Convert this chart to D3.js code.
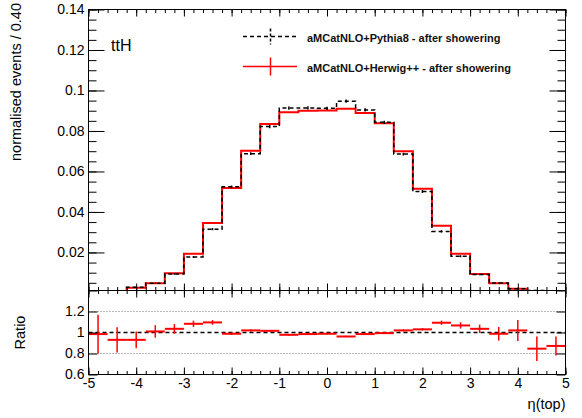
<!DOCTYPE html>
<html>
<head>
<meta charset="utf-8">
<script src="https://cdn.jsdelivr.net/npm/d3@7/dist/d3.min.js"></script>
<style>
  body { margin: 0; background: #fff; }
  svg { display: block; font-family: "Liberation Sans", Arial, Helvetica, sans-serif; }
</style>
</head>
<body>
<svg id="chart"></svg>
<script>
// bins of eta(top), width 0.4
const binLow = [-5, -4.6, -4.2, -3.8, -3.4, -3.0, -2.6, -2.2, -1.8, -1.4, -1.0, -0.6, -0.2,
  0.2, 0.6, 1.0, 1.4, 1.8, 2.2, 2.6, 3.0, 3.4, 3.8, 4.2, 4.6];
const binWidth = 0.4;

// aMCatNLO+Pythia8 (black dashed)
const pythia8 = [0.0004, 0.0011, 0.0028, 0.0048, 0.0094, 0.0178, 0.0315, 0.0524, 0.0688,
  0.0822, 0.0913, 0.0914, 0.0912, 0.0947, 0.0904, 0.0843, 0.0686, 0.0501, 0.0304, 0.0181,
  0.0091, 0.0049, 0.0021, 0.0012, 0.00046];
const pythia8Err = [0.0001, 0.0002, 0.0002, 0.0003, 0.0004, 0.0005, 0.0006, 0.0007, 0.0007,
  0.0008, 0.0008, 0.0008, 0.0008, 0.0008, 0.0008, 0.0008, 0.0007, 0.0007, 0.0006, 0.0005,
  0.0004, 0.0003, 0.0002, 0.0002, 0.0001];

// aMCatNLO+Herwig++ (red)
const herwig = [0.0004, 0.0010, 0.0026, 0.0048, 0.0097, 0.0193, 0.0345, 0.0518, 0.0702,
  0.0835, 0.0893, 0.0900, 0.0901, 0.0910, 0.0889, 0.0838, 0.0700, 0.0515, 0.0332, 0.0193,
  0.0094, 0.0048, 0.0021, 0.0010, 0.0004];

// ratio pad
const ratio = [0.985, 0.93, 0.93, 1.01, 1.035, 1.083, 1.096, 0.988, 1.02, 1.016, 0.978,
  0.985, 0.988, 0.962, 0.985, 0.994, 1.02, 1.03, 1.093, 1.067, 1.035, 0.988, 1.02, 0.846, 0.872];
const ratioErr = [0.185, 0.12, 0.08, 0.06, 0.045, 0.03, 0.022, 0.012, 0.01, 0.008, 0.008,
  0.008, 0.008, 0.008, 0.008, 0.008, 0.01, 0.012, 0.02, 0.03, 0.04, 0.065, 0.1, 0.117, 0.09];

const xTicks = [-5, -4, -3, -2, -1, 0, 1, 2, 3, 4, 5];
const yTicks = [0.02, 0.04, 0.06, 0.08, 0.1, 0.12, 0.14];
const ratioTicks = [0.6, 0.8, 1, 1.2, 1.4];
const ratioLabels = [0.6, 0.8, 1, 1.2];

const dimensions = {
  width: 582,
  height: 418,
  left: 88.5,
  right: 565.5,
  top: 9.5,
  mid: 290.5,
  bottom: 374.5
};

const svg = d3.select("#chart")
  .attr("width", dimensions.width)
  .attr("height", dimensions.height);

// scales
const xScale = d3.scaleLinear().domain([-5, 5]).range([dimensions.left, dimensions.right]);
const yScale = d3.scaleLinear().domain([0.0012, 0.14]).range([dimensions.mid, dimensions.top]);
const rScale = d3.scaleLinear().domain([0.6, 1.4]).range([dimensions.bottom, dimensions.mid]);

const xMinor = d3.range(-5, 5.0001, 0.2).map(d => +d.toFixed(1));
const yMinor = d3.range(0.005, 0.1401, 0.005).map(d => +d.toFixed(3));

const fmt = d => String(+d.toFixed(3));

svg.append("clipPath").attr("id", "topclip")
  .append("rect")
  .attr("x", dimensions.left).attr("y", dimensions.top)
  .attr("width", dimensions.right - dimensions.left)
  .attr("height", dimensions.mid - dimensions.top);

// ---- top pad histograms
const bins = binLow.map((x0, i) => ({ x0, x1: x0 + binWidth, h: herwig[i], p: pythia8[i], e: pythia8Err[i] }));
const stepLine = key => {
  const pts = bins.map(b => [b.x0, b[key]]);
  pts.push([5, bins[bins.length - 1][key]]);
  return d3.line()
    .x(d => xScale(d[0]))
    .y(d => yScale(d[1]))
    .curve(d3.curveStepAfter)(pts);
};

const hists = svg.append("g").attr("clip-path", "url(#topclip)");

hists.append("path")
  .attr("d", stepLine("h"))
  .attr("fill", "none")
  .attr("stroke", "#ff0000")
  .attr("stroke-width", 2);

hists.append("path")
  .attr("d", stepLine("p"))
  .attr("fill", "none")
  .attr("stroke", "#000")
  .attr("stroke-width", 1.5)
  .attr("stroke-dasharray", "4,3");

hists.selectAll(".perr")
  .data(bins)
  .join("line")
  .attr("class", "perr")
  .attr("x1", d => xScale(d.x0 + binWidth / 2))
  .attr("x2", d => xScale(d.x0 + binWidth / 2))
  .attr("y1", d => yScale(d.p - d.e))
  .attr("y2", d => yScale(d.p + d.e))
  .attr("stroke", "#000")
  .attr("stroke-width", 1.5);

// ---- top pad axes
const topAxes = svg.append("g");

topAxes.append("g")
  .attr("transform", `translate(${dimensions.left},0)`)
  .call(d3.axisLeft(yScale).tickValues(yMinor).tickSize(-8).tickFormat(""));
topAxes.append("g")
  .attr("transform", `translate(${dimensions.left},0)`)
  .call(d3.axisLeft(yScale).tickValues(yTicks).tickSize(-16).tickPadding(4).tickFormat(fmt));
topAxes.append("g")
  .attr("transform", `translate(${dimensions.right},0)`)
  .call(d3.axisRight(yScale).tickValues(yMinor).tickSize(-8).tickFormat(""));
topAxes.append("g")
  .attr("transform", `translate(${dimensions.right},0)`)
  .call(d3.axisRight(yScale).tickValues(yTicks).tickSize(-16).tickFormat(""));

topAxes.append("g")
  .attr("transform", `translate(0,${dimensions.mid})`)
  .call(d3.axisBottom(xScale).tickValues(xMinor).tickSize(-3.5).tickFormat(""));
topAxes.append("g")
  .attr("transform", `translate(0,${dimensions.mid})`)
  .call(d3.axisBottom(xScale).tickValues(xTicks).tickSize(-7).tickFormat(""));
topAxes.append("g")
  .attr("transform", `translate(0,${dimensions.top})`)
  .call(d3.axisTop(xScale).tickValues(xMinor).tickSize(-3.5).tickFormat(""));
topAxes.append("g")
  .attr("transform", `translate(0,${dimensions.top})`)
  .call(d3.axisTop(xScale).tickValues(xTicks).tickSize(-7).tickFormat(""));

// ---- ratio pad
const ratioG = svg.append("g");

ratioG.selectAll(".dotline")
  .data([0.8, 1.2])
  .join("line")
  .attr("x1", dimensions.left).attr("x2", dimensions.right)
  .attr("y1", d => rScale(d)).attr("y2", d => rScale(d))
  .attr("stroke", "#777")
  .attr("stroke-width", 1)
  .attr("stroke-dasharray", "1,2");

ratioG.append("line")
  .attr("x1", dimensions.left).attr("x2", dimensions.right)
  .attr("y1", rScale(1)).attr("y2", rScale(1))
  .attr("stroke", "#000")
  .attr("stroke-width", 1.5)
  .attr("stroke-dasharray", "4,3");

const rpts = binLow.map((x0, i) => ({ x0, r: ratio[i], e: ratioErr[i] }));
const cross = ratioG.selectAll(".pt").data(rpts).join("g").attr("class", "pt");
cross.append("line")
  .attr("x1", d => xScale(d.x0)).attr("x2", d => xScale(d.x0 + binWidth))
  .attr("y1", d => rScale(d.r)).attr("y2", d => rScale(d.r))
  .attr("stroke", "#ff0000").attr("stroke-width", 2);
cross.append("line")
  .attr("x1", d => xScale(d.x0 + binWidth / 2)).attr("x2", d => xScale(d.x0 + binWidth / 2))
  .attr("y1", d => rScale(d.r - d.e)).attr("y2", d => rScale(d.r + d.e))
  .attr("stroke", "#ff0000").attr("stroke-width", 1.5);

ratioG.append("g")
  .attr("transform", `translate(${dimensions.left},0)`)
  .call(d3.axisLeft(rScale).tickValues(ratioTicks).tickSize(-9).tickPadding(4)
    .tickFormat(d => ratioLabels.includes(d) ? fmt(d) : ""));
ratioG.append("g")
  .attr("transform", `translate(${dimensions.right},0)`)
  .call(d3.axisRight(rScale).tickValues(ratioTicks).tickSize(-9).tickFormat(""));
ratioG.append("g")
  .attr("transform", `translate(0,${dimensions.bottom})`)
  .call(d3.axisBottom(xScale).tickValues(xMinor).tickSize(-3.5).tickFormat(""));
ratioG.append("g")
  .attr("transform", `translate(0,${dimensions.bottom})`)
  .call(d3.axisBottom(xScale).tickValues(xTicks).tickSize(-7).tickPadding(4).tickFormat(d => String(d)));
ratioG.append("g")
  .attr("transform", `translate(0,${dimensions.mid})`)
  .call(d3.axisTop(xScale).tickValues(xMinor).tickSize(-3.5).tickFormat(""));
ratioG.append("g")
  .attr("transform", `translate(0,${dimensions.mid})`)
  .call(d3.axisTop(xScale).tickValues(xTicks).tickSize(-7).tickFormat(""));

// common axis styling
svg.selectAll(".domain").remove();
svg.selectAll(".tick line").attr("stroke", "#000").attr("stroke-width", 1);
svg.selectAll(".tick text")
  .attr("font-size", 14)
  .attr("font-family", "'Liberation Sans', Arial, sans-serif")
  .attr("fill", "#000");

// frames
[[dimensions.top, dimensions.mid], [dimensions.mid, dimensions.bottom]].forEach(([t, b]) => {
  svg.append("rect")
    .attr("x", dimensions.left).attr("y", t)
    .attr("width", dimensions.right - dimensions.left).attr("height", b - t)
    .attr("fill", "none").attr("stroke", "#000").attr("stroke-width", 1);
});

// titles
svg.append("text")
  .attr("transform", "translate(21,3) rotate(-90)")
  .attr("text-anchor", "end")
  .attr("font-size", 14.5)
  .text("normalised events / 0.40");

svg.append("text")
  .attr("transform", `translate(25,${rScale(1)}) rotate(-90)`)
  .attr("text-anchor", "middle")
  .attr("font-size", 14.5)
  .text("Ratio");

svg.append("text")
  .attr("x", dimensions.right).attr("y", 409)
  .attr("text-anchor", "end")
  .attr("font-size", 14.5)
  .text("η(top)");

svg.append("text")
  .attr("x", 111).attr("y", 51)
  .attr("font-size", 16)
  .text("ttH");

// legend
const legend = svg.append("g");
const entries = [
  { label: "aMCatNLO+Pythia8 - after showering", color: "#000", dash: "4,3", y: 36.5, err: 8 },
  { label: "aMCatNLO+Herwig++ - after showering", color: "#ff0000", dash: null, y: 66.5, err: 9 }
];
entries.forEach(e => {
  legend.append("line")
    .attr("x1", 243).attr("x2", 297).attr("y1", e.y).attr("y2", e.y)
    .attr("stroke", e.color).attr("stroke-width", 1.5)
    .attr("stroke-dasharray", e.dash);
  legend.append("line")
    .attr("x1", 270.5).attr("x2", 270.5).attr("y1", e.y - e.err).attr("y2", e.y + e.err)
    .attr("stroke", e.color).attr("stroke-width", 1.5)
    .attr("stroke-dasharray", e.dash ? "3,2" : null);
  legend.append("text")
    .attr("x", 307).attr("y", e.y + 1.5)
    .attr("dy", "0.35em")
    .attr("font-size", 11)
    .attr("font-weight", "bold")
    .attr("fill", "#111")
    .text(e.label);
});
</script>
</body>
</html>
